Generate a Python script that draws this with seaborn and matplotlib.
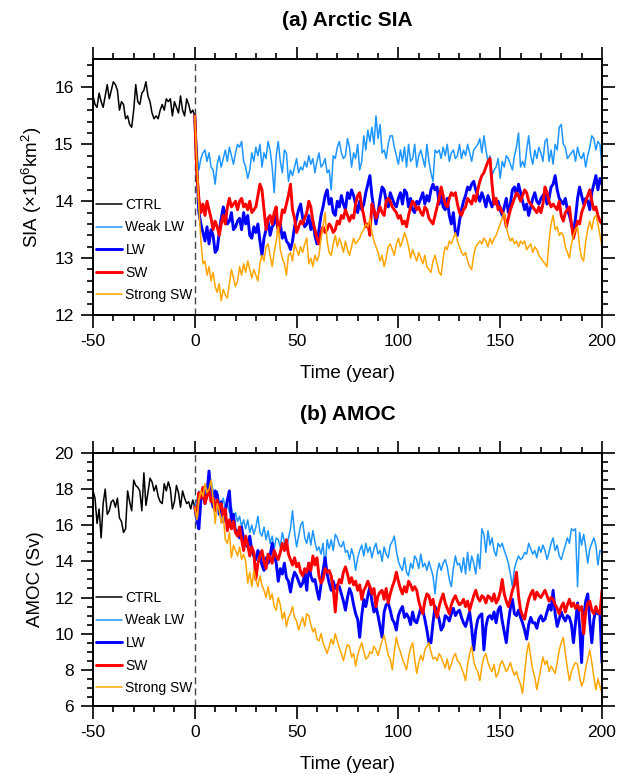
import numpy as np
import pandas as pd
import matplotlib
matplotlib.use("Agg")
import matplotlib.pyplot as plt
from matplotlib.ticker import MultipleLocator
import seaborn as sns

# ── Data ─────────────────────────────────────────────────────────────────────
YEARS_CTRL = list(range(-50, 1))
YEARS_EXP = list(range(0, 201))

SIA_CTRL = [
    15.85, 15.7, 15.65, 15.9, 15.75, 15.65, 15.85, 16.05, 15.8, 15.95,
    16.1, 16.05, 15.95, 15.6, 15.75, 15.7, 15.45, 15.5, 15.35, 15.3,
    15.6, 16.05, 15.75, 15.7, 15.9, 15.95, 16.1, 15.85, 15.75, 15.55,
    15.45, 15.5, 15.45, 15.6, 15.7, 15.6, 15.8, 15.75, 15.8, 15.5,
    15.75, 15.65, 15.55, 15.85, 15.6, 15.5, 15.8, 15.7, 15.55, 15.6,
    15.5,
]
SIA_WEAK_LW = [
    15.5,
    14.9, 14.55, 14.75, 14.85, 14.9, 14.7, 14.85, 14.6, 14.55, 14.3,
    14.65, 14.8, 14.6, 14.75, 14.9, 14.7, 14.95, 14.8, 14.65, 14.85,
    15.0, 14.95, 15.05, 14.7, 14.6, 14.4, 14.55, 14.85, 14.7, 14.95,
    14.8, 15.0, 14.6, 14.85, 14.75, 15.05, 14.9, 14.6, 14.15, 14.8,
    15.05, 14.7, 14.5, 14.9, 14.85, 14.35, 14.55, 14.45, 14.6, 14.75,
    14.5, 14.6, 14.55, 14.7, 14.6, 14.8, 14.65, 14.75, 14.5, 14.7,
    14.85, 14.6, 14.65, 14.75, 14.5, 14.55, 14.2, 14.8, 14.75, 14.95,
    15.05, 14.85, 14.75, 14.8, 15.1, 14.95, 14.6, 14.85, 14.75, 15.0,
    14.55, 14.7, 15.15, 14.9, 15.25, 15.05, 15.3, 15.0, 15.5, 15.1,
    15.35, 14.85, 14.9, 14.75, 15.0, 15.15, 15.15, 14.95, 14.8, 14.65,
    14.9, 14.7, 14.95, 14.6, 15.0, 14.7, 14.75, 15.0, 14.6, 14.8,
    14.9, 14.75, 14.6, 15.0, 14.7, 14.5, 14.35, 14.9, 14.85, 14.9,
    14.75, 14.95, 14.8, 15.0, 14.7, 14.85, 14.9, 14.75, 14.8, 15.0,
    14.75, 14.9, 14.8, 15.0, 14.85, 14.7, 14.9, 14.95, 15.0, 15.1,
    14.85, 15.15, 14.9, 14.7, 14.8, 14.45, 14.55, 14.6, 14.75, 14.4,
    14.7, 14.6, 14.8, 14.75, 14.65, 14.55, 14.8, 14.95, 15.2, 14.6,
    14.7, 14.6, 14.9, 15.15, 14.8, 14.65, 14.9, 14.75, 14.95, 14.85,
    14.7, 15.05, 15.1, 14.7, 14.9, 14.65, 15.0, 14.9, 15.3, 15.35,
    15.0, 14.95, 14.75, 14.8, 14.85, 14.9, 14.7, 14.95, 14.8, 14.75,
    14.85, 14.6, 14.8, 14.95, 15.15, 15.1, 14.9, 15.05, 15.0, 14.6,
]
SIA_LW = [
    15.5,
    14.6, 13.8, 13.6, 13.45, 13.3, 13.55, 13.25, 13.5, 13.4, 13.1,
    13.15, 13.45, 13.7, 13.9, 13.75, 13.6, 13.65, 13.8, 13.5, 13.55,
    13.65, 13.7, 13.5, 13.8, 13.6, 13.75, 13.4, 13.35, 13.55, 13.45,
    13.6, 13.3, 13.05, 13.35, 13.5, 13.65, 13.4, 13.55, 13.6, 13.75,
    13.5, 13.6, 13.35, 13.45, 13.3, 13.25, 13.15, 13.3, 13.55, 13.7,
    13.85, 13.95, 13.7, 13.55, 13.6, 13.75, 13.5, 13.65, 13.4, 13.25,
    13.5, 13.75, 13.9, 14.1, 14.2, 13.95, 14.05, 13.8, 13.75, 14.0,
    13.9, 14.1, 13.95, 13.85, 14.15, 14.05, 14.2, 14.1, 13.95, 13.8,
    14.0, 13.85, 13.95, 14.15, 14.3, 14.45, 14.1, 13.85, 13.6, 13.8,
    14.05, 14.25, 14.2, 14.0, 13.9, 14.15, 14.05, 13.95, 13.9, 14.05,
    14.15, 13.95, 14.2, 14.15, 13.9, 14.05, 13.85, 13.8, 14.0, 13.95,
    14.05, 14.15, 13.95, 14.1, 14.0, 14.2, 14.3, 14.2, 14.25, 13.95,
    14.1, 13.9, 13.85, 14.05, 13.75, 13.6, 13.8, 13.45, 13.4, 13.65,
    13.85, 14.0, 14.1, 14.25, 14.2, 14.3, 14.35, 14.2, 14.1, 14.0,
    14.15, 14.05, 13.9, 14.1, 14.0, 13.9, 14.05, 13.95, 14.0, 13.85,
    13.75, 13.9, 14.05, 13.8, 13.95, 14.2, 14.25, 14.1, 14.3, 14.15,
    14.0, 13.85, 13.95, 13.75, 13.9, 14.05, 14.15, 14.0, 13.95, 14.05,
    14.1, 14.15, 13.95, 14.05, 14.25, 14.3, 14.45, 14.2, 14.05, 14.0,
    13.95, 14.05, 13.85, 13.75, 13.6, 13.45, 13.7, 14.05, 14.25, 14.1,
    13.95, 14.05, 14.0, 13.85, 14.15, 14.3, 14.45, 14.2, 14.4, 14.3,
]
SIA_SW = [
    15.5,
    14.5, 14.05, 13.8, 13.95, 13.75, 14.0, 13.85, 13.7, 13.5, 13.65,
    13.55, 13.4, 13.6, 13.75, 13.6, 13.9, 14.05, 13.9, 13.95, 14.0,
    13.85, 14.0, 14.05, 13.9, 13.95, 13.85, 14.0, 13.8, 13.85, 13.9,
    14.1, 14.3, 14.2, 13.85, 13.5, 13.7, 13.75, 13.6, 13.8, 13.9,
    13.45, 13.6, 13.85, 13.8, 13.95, 14.1, 14.3, 13.85, 13.7, 13.45,
    13.55, 13.65, 13.6, 13.7, 13.8, 14.0, 13.9, 13.65, 13.5, 13.35,
    13.25, 13.45, 13.55, 13.45, 13.5, 13.6, 13.55, 13.45, 13.5, 13.65,
    13.6, 13.75, 13.7, 13.85, 13.75, 13.65, 13.75, 13.7, 13.95, 14.1,
    14.15, 13.9, 13.75, 13.55, 13.6, 13.4, 13.95, 13.85, 13.7, 13.8,
    13.9, 13.8, 13.75, 14.0, 14.05, 14.0, 13.9, 13.85, 13.8, 13.7,
    13.75, 13.6, 13.65, 13.55, 13.75, 13.9, 14.0, 13.95, 13.85, 13.9,
    13.8, 13.75, 13.9, 13.85, 13.7, 13.65, 13.6, 13.75, 13.9, 14.05,
    14.25, 14.1, 13.95, 13.9, 14.05, 14.15, 14.1, 14.15, 13.95, 13.8,
    13.75, 13.85, 13.9, 14.05, 14.0, 13.95, 14.1, 14.0, 14.2, 14.35,
    14.45, 14.5, 14.6, 14.7, 14.75, 14.3, 13.95, 14.05, 13.85, 13.9,
    13.8, 13.75, 13.55, 13.7, 13.85, 13.95, 14.05, 14.15, 14.1, 14.0,
    14.1, 14.2, 14.15, 14.0, 13.95, 13.9, 13.85, 13.8, 13.9, 13.8,
    13.95, 14.25, 14.15, 14.0, 13.9, 13.95, 13.9, 13.85, 14.0, 13.75,
    13.65, 13.8, 13.85, 13.9, 13.6, 13.35, 13.5, 13.65, 13.6, 13.8,
    13.9, 14.0, 14.1, 14.2, 14.0, 13.85, 13.9, 13.75, 13.65, 13.6,
]
SIA_STRONG_SW = [
    15.5,
    14.7, 13.9, 13.3, 12.9, 12.95, 12.7, 12.85, 12.6, 12.75, 12.5,
    12.4, 12.55, 12.25, 12.45, 12.35, 12.3, 12.55, 12.8, 12.65, 12.5,
    12.6, 12.85, 12.7, 12.9, 12.75, 12.95, 12.8, 12.65, 12.8, 12.7,
    12.6, 12.9, 13.05, 12.95, 13.2, 13.25, 13.05, 12.85, 13.1, 13.3,
    13.55, 13.15, 13.0, 12.9, 12.7, 13.05, 13.1, 12.95, 13.25, 13.15,
    13.05, 13.2, 13.1, 13.25, 13.35, 12.9, 13.0, 12.85, 13.05, 12.95,
    13.05, 13.35, 13.55, 13.8, 13.3, 13.1, 13.05, 13.25, 13.4, 13.2,
    13.35, 13.25, 13.1, 13.3, 13.15, 13.05, 13.2, 13.35, 13.25, 13.3,
    13.35, 13.45, 13.5, 13.6, 13.55, 13.7, 13.45, 13.3, 13.2, 13.1,
    12.95, 13.05, 12.85, 13.0, 13.2, 13.25, 13.15, 13.05, 13.25, 13.35,
    13.2, 13.3, 13.45, 13.35, 13.2, 13.0, 13.15, 13.05, 12.95, 13.1,
    13.0, 12.9, 13.05, 12.85, 12.8, 12.75, 12.95, 13.05, 12.9, 12.75,
    12.7, 13.0, 13.2, 13.15, 13.3, 13.25, 13.35, 13.45, 13.3, 13.2,
    13.1, 13.05, 13.1, 12.95, 12.85, 12.8, 13.05, 13.2, 13.25, 13.3,
    13.25, 13.35, 13.3, 13.2, 13.35, 13.25, 13.35, 13.4, 13.5, 13.6,
    13.7, 13.8, 13.55, 13.4, 13.3, 13.35, 13.25, 13.3, 13.2, 13.3,
    13.25, 13.3, 13.15, 13.2, 13.25, 13.1, 13.2, 13.15, 13.05, 13.0,
    12.95, 12.9, 12.85, 13.3, 13.6, 13.75, 13.5, 13.55, 13.4, 13.45,
    13.4, 13.2, 13.1, 13.0, 13.25, 13.4, 13.5, 13.55, 13.2, 13.0,
    12.95, 13.3, 13.5, 13.65, 13.5, 13.7, 13.75, 13.6, 13.4, 13.2,
]

AMOC_CTRL = [
    17.9, 17.5, 16.1, 16.9, 15.3, 17.2, 18.0, 16.6, 16.8, 17.3,
    17.4, 17.0, 17.5, 16.4, 16.2, 15.6, 15.8, 17.9, 17.3, 16.8,
    18.5, 18.2, 18.1, 17.9, 16.8, 18.9, 17.1, 17.8, 18.6, 18.4,
    17.9, 18.2, 17.6, 17.3, 17.2, 18.3, 17.9, 18.4, 18.0, 16.9,
    17.3, 18.2, 17.8, 17.0, 17.9, 17.5, 17.2, 17.3, 16.9, 17.4,
    17.0,
]
AMOC_WEAK_LW = [
    17.0,
    17.4, 17.9, 17.2, 17.8, 18.0, 17.6, 17.9, 18.5, 17.9, 17.5,
    17.9, 17.3, 17.0, 17.5, 16.9, 17.2, 16.7, 17.0, 16.4, 16.7,
    16.2, 16.5, 15.9, 16.3, 15.8, 16.3, 15.6, 16.0, 15.5, 15.9,
    16.5, 15.6, 15.4, 15.9, 15.2, 15.7, 15.0, 15.4, 14.7, 15.3,
    15.2, 14.8, 15.6, 15.1, 14.6, 15.3, 15.8, 16.8, 15.6, 14.8,
    15.4, 16.0, 16.2, 15.3, 15.0, 15.6, 14.9, 15.7, 15.1, 14.6,
    14.8, 14.4, 15.0, 13.6, 15.2, 14.7, 15.2, 14.6, 15.5, 15.3,
    14.9, 14.8, 15.1, 14.5, 14.6, 14.1, 14.7, 14.3, 13.5, 14.2,
    14.6, 14.9, 14.3, 15.0, 14.5, 14.8, 14.2, 14.7, 15.0, 14.4,
    14.6, 14.0, 14.8, 14.4, 14.2, 14.9, 15.1, 15.4, 14.6, 14.0,
    13.7, 13.5, 14.2, 13.4, 13.2, 13.9, 13.6, 14.3, 14.1, 13.6,
    14.4, 13.7, 13.9, 13.5, 14.0, 13.6, 13.2, 12.2, 13.4, 13.9,
    13.5, 13.9, 14.1, 13.7, 13.0, 12.6, 13.6, 14.3, 13.8, 13.9,
    13.4, 14.2, 13.3, 14.5, 13.5, 14.3, 13.9, 13.3, 14.4, 13.6,
    15.8, 15.5, 14.5, 15.7, 14.9, 15.3, 14.6, 14.3, 15.0, 14.8,
    15.0, 14.6, 14.3, 13.9, 13.3, 12.6, 13.6, 14.0, 14.3, 14.1,
    14.2, 14.5, 14.4, 15.0, 14.7, 14.4, 14.6, 14.2, 14.8, 14.5,
    14.9, 14.6, 14.1, 14.5, 15.0, 15.3, 14.6, 14.9, 14.3, 14.1,
    14.5, 14.9, 15.3, 15.0, 15.8, 15.7, 15.8, 12.6, 15.6, 14.9,
    15.5, 14.8, 13.9, 14.7, 15.0, 15.3, 14.9, 13.8, 14.6, 14.5,
]
AMOC_LW = [
    17.0,
    16.3, 15.8, 17.4, 17.9, 17.2, 17.8, 19.0, 17.6, 17.0, 17.9,
    17.7, 16.6, 17.3, 16.2, 16.8, 17.4, 17.9, 16.2, 16.6, 15.6,
    15.7, 15.3, 15.9, 15.2, 15.0, 14.8, 15.4, 14.6, 14.3, 14.1,
    14.6, 14.3, 13.8, 13.5, 14.2, 13.9, 14.3, 15.0, 14.4, 13.9,
    12.9, 13.6, 13.3, 13.9, 13.1, 12.9, 12.3, 13.0, 13.4, 13.2,
    12.9, 12.6, 12.8, 13.3, 12.4, 13.9, 13.2, 12.9, 13.0, 12.4,
    11.9, 12.7, 13.5, 14.2, 13.3, 12.8, 12.4, 12.9, 12.5, 12.7,
    12.6, 12.2, 11.8, 11.3, 12.0, 12.5, 12.2, 11.6, 11.1, 10.8,
    9.8, 11.0, 11.9, 11.5, 12.1, 12.6, 11.8, 11.2, 11.5, 11.0,
    10.4, 9.8, 11.2, 11.6, 11.7, 11.3, 10.8, 10.6, 10.2, 11.0,
    11.3, 11.5, 10.9, 11.1, 10.9, 10.5, 11.2, 10.7, 10.6, 11.0,
    11.4, 11.3, 10.8, 10.2, 9.5, 9.5, 10.6, 11.5, 11.2, 10.8,
    10.2, 10.4, 11.0, 10.9, 10.7, 11.1, 11.4, 11.0, 11.2, 11.3,
    10.9, 10.6, 10.4, 10.8, 11.2, 10.3, 9.1, 10.2, 10.8, 11.0,
    11.1, 9.1, 10.4, 10.9, 11.0, 10.8, 11.2, 10.6, 11.3, 11.5,
    10.7, 10.1, 9.5, 10.6, 11.4, 11.9, 11.1, 11.0, 11.3, 10.9,
    10.6, 10.2, 9.7, 10.5, 10.9, 10.6, 10.6, 10.3, 10.8, 11.0,
    10.7, 10.8, 11.2, 11.6, 11.3, 12.4, 11.1, 10.4, 10.8, 11.2,
    10.9, 10.7, 11.0, 10.9, 10.5, 9.5, 10.6, 11.7, 10.4, 8.4,
    10.9, 11.8, 12.2, 10.7, 9.5, 10.8, 11.3, 11.1, 11.1, 8.4,
]
AMOC_SW = [
    17.0,
    16.5, 17.8, 17.5, 18.1, 17.2, 17.6, 18.0, 17.3, 17.5, 16.8,
    17.4, 16.9, 17.2, 16.5, 16.9, 15.7, 16.3, 15.8, 16.2, 15.6,
    15.4, 15.9, 15.2, 14.6, 15.4, 14.9, 14.3, 14.8, 14.5, 13.0,
    13.9, 14.3, 14.6, 14.0, 13.6, 14.4, 14.2, 13.9, 14.6, 14.3,
    14.1, 14.5, 15.0, 14.6, 15.2, 14.4, 14.1, 13.8, 14.2, 13.7,
    13.9, 13.4, 13.2, 13.6, 13.4, 13.9, 13.5, 14.3, 13.8, 14.2,
    13.2, 12.8, 13.0, 13.6, 13.4, 13.5, 13.2, 12.5, 11.2, 12.6,
    13.0, 12.8, 13.4, 13.7, 13.3, 12.8, 13.1, 12.7, 12.9, 12.4,
    12.7, 11.9, 12.4, 12.6, 12.9, 12.6, 12.2, 12.5, 11.5, 12.1,
    12.3, 12.4, 11.9, 12.5, 11.7, 12.2, 12.6, 12.9, 13.4, 12.9,
    12.5, 12.2, 12.6, 12.3, 12.9, 12.7, 12.4, 12.6, 12.4, 11.8,
    11.4, 11.1, 11.8, 12.2, 12.1, 11.6, 11.9, 11.3, 10.9, 11.5,
    11.9, 12.2, 11.7, 11.4, 11.1, 11.6, 11.9, 12.1, 11.8, 11.6,
    11.7, 11.9, 11.5, 11.8, 11.3, 11.7, 12.1, 12.4, 12.0, 11.8,
    12.1, 12.0, 11.7, 12.1, 12.0, 11.8, 12.2, 11.7, 11.9, 12.3,
    13.0, 12.2, 11.8, 11.5, 11.9, 12.4, 12.7, 13.4, 12.1, 11.3,
    11.0, 10.8, 11.4, 11.9, 12.2, 12.4, 11.9, 12.3, 12.1, 12.0,
    12.2, 12.4, 12.1, 11.8, 12.0, 11.9, 11.6, 11.4, 11.1, 11.5,
    11.7, 11.2, 11.6, 11.9, 11.5, 11.7, 11.4, 11.6, 11.3, 11.5,
    10.0, 11.2, 11.7, 11.8, 11.3, 11.1, 11.5, 11.2, 11.1, 12.4,
]
AMOC_STRONG_SW = [
    17.0,
    16.3, 17.4, 17.9, 17.6, 18.3, 17.8, 18.0, 18.5, 17.4, 16.1,
    17.2, 16.8, 16.1, 16.5, 15.2, 15.0, 15.6, 14.2, 14.9, 14.6,
    14.3, 14.8, 14.1, 14.4, 14.0, 12.8, 13.4, 12.6, 13.5, 13.0,
    12.6, 13.2, 12.7, 12.4, 12.0, 12.6, 11.9, 12.2, 11.5, 11.3,
    12.0, 11.6, 10.8, 11.2, 10.4, 10.9, 11.1, 11.5, 10.9, 10.7,
    10.2, 10.6, 10.9, 10.4, 11.1, 11.0, 10.5, 10.1, 10.3, 9.7,
    9.6, 10.0, 9.5, 9.2, 8.9, 9.3, 9.7, 9.4, 10.0, 9.6,
    9.2, 8.9, 8.5, 9.0, 9.4, 9.3, 8.7, 8.9, 8.2, 8.8,
    9.2, 9.5, 9.0, 8.6, 8.7, 9.0, 8.9, 9.3, 9.1, 8.8,
    9.2, 9.6, 9.9, 9.4, 8.8, 8.6, 8.0, 9.0, 9.8, 9.3,
    9.0, 8.6, 8.3, 8.0, 8.7, 9.2, 9.5, 8.6, 7.8, 8.4,
    8.8, 8.5, 9.1, 9.3, 9.5, 9.0, 8.6, 8.7, 8.5, 8.9,
    8.7, 8.4, 8.1, 8.6, 8.0, 8.3, 8.7, 8.9, 8.5, 8.4,
    8.1, 7.8, 7.4, 8.3, 8.9, 9.3, 8.5, 8.1, 7.9, 7.4,
    8.2, 8.7, 8.9, 8.4, 8.1, 7.9, 8.3, 7.6, 7.8, 8.3,
    8.5, 8.2, 7.9, 8.1, 8.4, 8.0, 7.7, 7.9, 7.5, 7.2,
    6.7, 7.8, 8.9, 9.5, 8.7, 8.0, 7.6, 6.9, 7.5, 8.1,
    8.7, 8.3, 8.5, 7.9, 8.2, 8.0, 7.8, 8.4, 9.1, 9.5,
    9.8, 8.9, 8.1, 7.4, 7.9, 8.2, 8.4, 8.3, 7.6, 7.1,
    7.4, 8.1, 8.6, 9.1, 8.4, 7.6, 6.9, 7.5, 7.1, 6.7,
]

RUNS = ["CTRL", "Weak LW", "LW", "SW", "Strong SW"]
COLORS = {"CTRL": "black", "Weak LW": "#1E96FF", "LW": "#0000FF",
          "SW": "#FF0000", "Strong SW": "#FFA500"}
WIDTHS = {"CTRL": 1.1, "Weak LW": 1.1, "LW": 2.1, "SW": 2.1, "Strong SW": 1.1}


def long_form(ctrl, weak_lw, lw, sw, strong_sw):
    frames = [pd.DataFrame({"year": YEARS_CTRL, "value": ctrl, "run": "CTRL"})]
    for name, vals in zip(RUNS[1:], [weak_lw, lw, sw, strong_sw]):
        assert len(vals) == len(YEARS_EXP), (name, len(vals))
        frames.append(pd.DataFrame({"year": YEARS_EXP, "value": vals, "run": name}))
    return pd.concat(frames, ignore_index=True)


sia_df = long_form(SIA_CTRL, SIA_WEAK_LW, SIA_LW, SIA_SW, SIA_STRONG_SW)
amoc_df = long_form(AMOC_CTRL, AMOC_WEAK_LW, AMOC_LW, AMOC_SW, AMOC_STRONG_SW)

# ── Style ─────────────────────────────────────────────────────────────────────
sns.set_style("ticks")
plt.rcParams["font.family"] = ["Liberation Sans", "DejaVu Sans"]
plt.rcParams["mathtext.fontset"] = "custom"
plt.rcParams["mathtext.rm"] = "Liberation Sans"
plt.rcParams["axes.unicode_minus"] = False
plt.rcParams["text.color"] = "black"
plt.rcParams["axes.labelcolor"] = "black"
plt.rcParams["axes.edgecolor"] = "black"

fig = plt.figure(figsize=(6.27, 7.74), dpi=100)
ax_a = fig.add_axes([0.1483, 0.5930, 0.8118, 0.3308])
ax_b = fig.add_axes([0.1483, 0.0879, 0.8118, 0.3269])


def draw_panel(ax, df, title, ylabel, ylim, ymajor, yminor, leg_y):
    sns.lineplot(data=df, x="year", y="value", hue="run", size="run",
                 hue_order=RUNS, size_order=RUNS, palette=COLORS, sizes=WIDTHS,
                 estimator=None, sort=False, ax=ax)
    ax.axvline(0, color="#444444", lw=1.0, ls=(0, (5, 3)), zorder=1)
    ax.set_xlim(-50, 200)
    ax.set_ylim(*ylim)
    ax.xaxis.set_major_locator(MultipleLocator(50))
    ax.xaxis.set_minor_locator(MultipleLocator(10))
    ax.yaxis.set_major_locator(MultipleLocator(ymajor))
    ax.yaxis.set_minor_locator(MultipleLocator(yminor))
    ax.tick_params(which="both", direction="out", top=True, right=True,
                   labeltop=False, labelright=False, width=1.2, colors="black",
                   labelsize=12.5)
    ax.tick_params(which="major", length=9, pad=5)
    ax.tick_params(which="minor", length=4.5)
    for sp in ax.spines.values():
        sp.set_linewidth(1.4)
        sp.set_visible(True)
    ax.set_title(title, fontsize=15, fontweight="bold", pad=24, color="black")
    ax.set_xlabel("Time (year)", fontsize=13.5, labelpad=11)
    ax.set_ylabel(ylabel, fontsize=13.5, labelpad=7)
    ax.legend(loc="upper left", bbox_to_anchor=(0.005, leg_y), frameon=False,
              fontsize=10, handlelength=1.9, handletextpad=0.25,
              labelspacing=0.62, borderpad=0, borderaxespad=0)


draw_panel(ax_a, sia_df, "(a) Arctic SIA", r"SIA ($\times$10$^6$km$^2$)",
           (12, 16.5), 1, 0.2, 0.458)
draw_panel(ax_b, amoc_df, "(b) AMOC", "AMOC (Sv)", (6, 20), 2, 0.5, 0.455)

fig.savefig("out.png", dpi=100)
